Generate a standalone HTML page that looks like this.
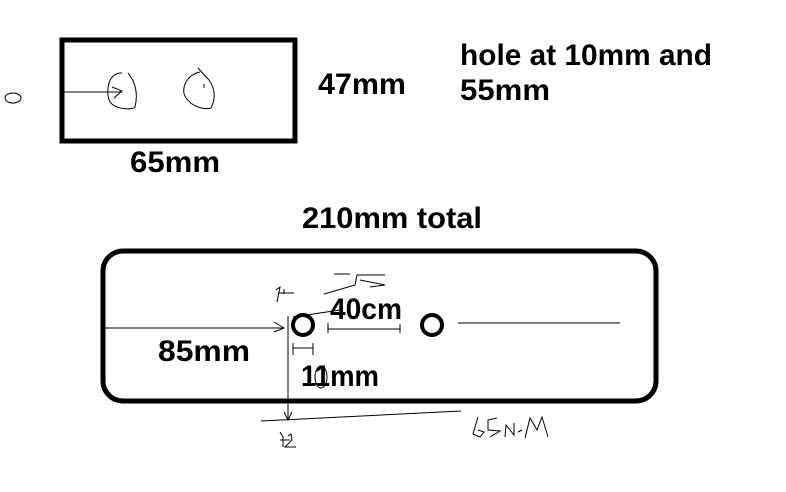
<!DOCTYPE html>
<html><head><meta charset="utf-8"><style>
html,body{margin:0;padding:0;background:#fff;width:786px;height:492px;overflow:hidden}
svg{display:block}
text{font-family:"Liberation Sans",sans-serif;font-weight:bold;font-size:30px;fill:#000}
</style></head><body>
<svg width="786" height="492" viewBox="0 0 786 492">
<g>
<ellipse cx="13" cy="98" rx="8" ry="5" fill="none" stroke="#000" stroke-width="1"/>
<rect x="62" y="40" width="233" height="101" fill="none" stroke="#000" stroke-width="5"/>
<line x1="63" y1="92" x2="122" y2="92" stroke="#000" stroke-width="1"/>
<path d="M112,87 L122,91 L114,98" fill="none" stroke="#000" stroke-width="1"/>
<path d="M122,73 C108,72 105,92 110,102 C116,110 133,110 135,107 C138,95 136,82 128,73" fill="none" stroke="#000" stroke-width="1"/>
<path d="M200,72 C186,75 180,90 186,98 C192,107 205,110 211,108 C215,100 216,90 209,80 L198,68" fill="none" stroke="#000" stroke-width="1"/>
<line x1="204" y1="84" x2="204" y2="88" stroke="#000" stroke-width="1"/>
<text x="130" y="172" textLength="90" lengthAdjust="spacingAndGlyphs">65mm</text>
<text x="318" y="94" textLength="88" lengthAdjust="spacingAndGlyphs">47mm</text>
<text x="460" y="65" textLength="252" lengthAdjust="spacingAndGlyphs">hole at 10mm and</text>
<text x="460" y="100" textLength="90" lengthAdjust="spacingAndGlyphs">55mm</text>
</g>
<g>
<text x="302" y="228" textLength="180" lengthAdjust="spacingAndGlyphs">210mm total</text>
<rect x="103" y="251" width="553" height="150" rx="20" ry="20" fill="none" stroke="#000" stroke-width="5"/>
<circle cx="303" cy="325" r="10" fill="none" stroke="#000" stroke-width="4"/>
<circle cx="432" cy="325" r="10" fill="none" stroke="#000" stroke-width="4"/>
<line x1="105" y1="328" x2="284" y2="328" stroke="#000" stroke-width="1"/>
<path d="M274,322 L284,328 L274,332" fill="none" stroke="#000" stroke-width="1"/>
<line x1="458" y1="323" x2="620" y2="323" stroke="#000" stroke-width="1"/>
<line x1="328" y1="329" x2="400" y2="329" stroke="#000" stroke-width="1"/>
<line x1="328" y1="323" x2="328" y2="333" stroke="#000" stroke-width="1"/>
<line x1="400" y1="324" x2="400" y2="333" stroke="#000" stroke-width="1"/>
<line x1="293" y1="317" x2="340" y2="310" stroke="#000" stroke-width="1"/>
<line x1="288" y1="316" x2="288" y2="420" stroke="#000" stroke-width="1"/>
<path d="M284,412 L288,420 L292,412" fill="none" stroke="#000" stroke-width="1"/>
<line x1="293" y1="348" x2="313" y2="348" stroke="#000" stroke-width="1"/>
<line x1="293" y1="343" x2="293" y2="355" stroke="#000" stroke-width="1"/>
<line x1="313" y1="343" x2="313" y2="355" stroke="#000" stroke-width="1"/>
<line x1="261" y1="421" x2="461" y2="411" stroke="#000" stroke-width="1"/>
<path d="M276,290 L280,287 L277,302 M278,293 L294,293 M284,289 L284,294" fill="none" stroke="#000" stroke-width="1"/>
<path d="M324,294 L355,285 L357,275 L385,275 M334,274 L350,274 M360,280 L385,285 L370,287" fill="none" stroke="#000" stroke-width="1"/>
<text x="330" y="319" textLength="72" lengthAdjust="spacingAndGlyphs">40cm</text>
<text x="158" y="361" textLength="92" lengthAdjust="spacingAndGlyphs">85mm</text>
<text x="301" y="386" textLength="78" lengthAdjust="spacingAndGlyphs">11mm</text>
<ellipse cx="321" cy="377" rx="6" ry="11" fill="none" stroke="#000" stroke-width="1"/>
<path d="M280,432 L283,437 L283,447 M280,440 L290,440 M288,436 L291,434 L292,440 L285,447 L296,447" fill="none" stroke="#000" stroke-width="1"/>
<path d="M478,417 L473,434 L480,437 L484,432 L478,430 M497,418 L488,420 L488,430 L500,431 L490,437 M505,437 L506,425 L514,435 L514,423 M518,432 L522,430 M525,438 L530,418 L537,430 L542,417 L548,437" fill="none" stroke="#000" stroke-width="1"/>
</g>
</svg>
</body></html>
